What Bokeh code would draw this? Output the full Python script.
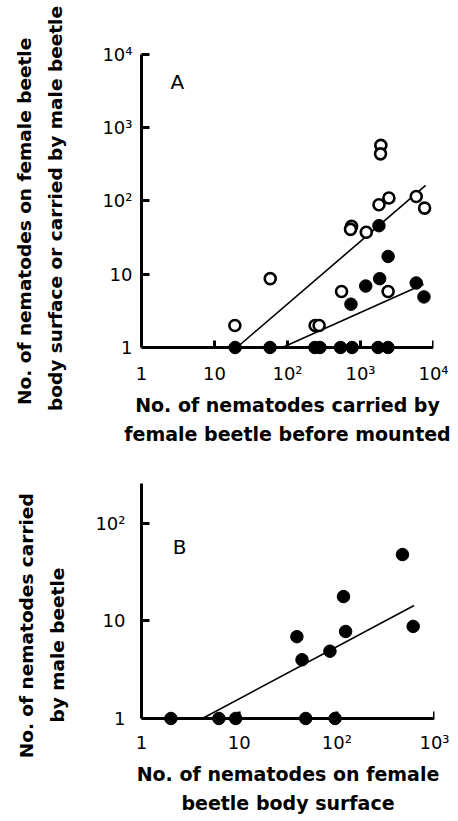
from bokeh.plotting import figure
from bokeh.layouts import column
from bokeh.models import Range1d, FixedTicker, Label, Span
from bokeh.embed import file_html
from bokeh.resources import INLINE

FONT = "DejaVu Sans"
NB = "\u00a0"  # non-breaking space, used to nudge a title line along its axis

# ---------------- Panel A data ----------------
# open circles: nematodes on female beetle body surface
a_open_x = [19, 58, 239, 271, 550, 755, 730, 1200, 1790, 2450, 1900, 1880, 2390, 5800, 7550]
a_open_y = [2.0, 8.7, 2.0, 2.0, 5.8, 45, 41, 37.5, 89, 110, 575, 440, 5.8, 115, 80]
# filled circles: nematodes carried by male beetle
a_fill_x = [1790, 2390, 1830, 1180, 740, 5800, 7400,
            19.2, 57.7, 237, 278, 532, 767, 1740, 2380]
a_fill_y = [46, 17.5, 8.7, 6.9, 3.9, 7.6, 4.9,
            1, 1, 1, 1, 1, 1, 1, 1]
# regression lines (end points)
a_fit_open_x = [20.2, 7800]
a_fit_open_y = [1.0, 163]
a_fit_fill_x = [85, 7300]
a_fit_fill_y = [1.0, 7.3]

a_ticks_x = [1, 10, 100, 1000, 10000]
a_ticks_y = [1, 10, 100, 1000, 10000]
a_labels = {1: "1", 10: "10", 100: "10²", 1000: "10³", 10000: "10⁴"}
a_xtitle = "No. of nematodes carried by\nfemale beetle before mounted"
a_ytitle = ["No. of nematodes on female beetle", "body surface or carried by male beetle"]

# ---------------- Panel B data ----------------
b_x = [2.0, 6.2, 9.2, 48, 96, 39, 44, 85, 117, 123, 470, 605]
b_y = [1, 1, 1, 1, 1, 6.9, 4.0, 4.9, 17.8, 7.8, 48, 8.8]
b_fit_x = [4.2, 618]
b_fit_y = [1.0, 14.4]

b_ticks_x = [1, 10, 100, 1000]
b_ticks_y = [1, 10, 100]
b_labels = {1: "1", 10: "10", 100: "10²", 1000: "10³"}
b_xtitle = "No. of nematodes on female\nbeetle body surface"
b_ytitle = ["No. of nematodes carried", "by male beetle"]


def style(p, xticks, yticks, labels, yb, xlabel, ylabel_lines, pads,
          ytick_standoff, ylabel_standoff, xtick_standoff, xlabel_standoff, decade_px):
    p.yaxis.bounds = yb
    p.xaxis.ticker = FixedTicker(ticks=xticks)
    p.yaxis.ticker = FixedTicker(ticks=yticks)
    p.xaxis.major_label_overrides = labels
    p.yaxis.major_label_overrides = labels
    for ax in (p.xaxis[0], p.yaxis[0]):
        ax.axis_line_width = 3
        ax.axis_line_color = "black"
        ax.major_tick_line_width = 3
        ax.major_tick_line_color = "black"
        ax.major_tick_in = 8
        ax.major_tick_out = 0
        ax.minor_tick_line_color = None
        ax.major_label_text_font = FONT
        ax.major_label_text_font_size = "18px"
        ax.major_label_text_color = "black"
        ax.axis_label_text_font = FONT
        ax.axis_label_text_font_style = "bold"
        ax.axis_label_text_color = "black"
    p.xaxis.axis_label_text_font_size = "19px"
    p.yaxis.axis_label_text_font_size = "18.5px"
    p.xaxis.axis_label_text_line_height = 1.35
    p.yaxis.axis_label_text_line_height = 1.5
    # x axis: line and ticks are drawn at y = 1 below; axis keeps labels only
    p.xaxis.axis_line_color = None
    p.xaxis.major_tick_line_color = None
    p.xaxis.major_label_standoff = xtick_standoff
    p.yaxis.major_label_standoff = ytick_standoff
    p.xaxis.axis_label = xlabel
    p.xaxis.axis_label_standoff = xlabel_standoff
    p.yaxis.axis_label = "\n".join(t + NB * n for t, n in zip(ylabel_lines, pads))
    p.yaxis.axis_label_standoff = ylabel_standoff
    p.xgrid.visible = False
    p.ygrid.visible = False
    p.outline_line_color = None
    p.background_fill_color = "white"
    p.border_fill_color = "white"
    # x axis line at y = 1 and inward ticks
    p.add_layout(Span(location=1, dimension="width", line_color="black", line_width=3))
    tick_top = 10 ** (7.0 / decade_px)
    tx = [t for t in xticks if t != xticks[0]]
    p.segment(x0=tx, y0=[1] * len(tx), x1=tx, y1=[tick_top] * len(tx),
              line_color="black", line_width=3)


pA = figure(x_axis_type="log", y_axis_type="log",
            x_range=Range1d(1, 1e4), y_range=Range1d(10 ** -0.205, 1e4),
            frame_width=292, frame_height=308,
            min_border_left=141, min_border_right=20,
            min_border_top=54, min_border_bottom=88,
            output_backend="svg", toolbar_location=None)
style(pA, a_ticks_x, a_ticks_y, a_labels, (1, 1e4), a_xtitle, a_ytitle, [4, 0],
      9, 33, 0, 7, 73.25)

pA.line(a_fit_open_x, a_fit_open_y, line_width=1.6, line_color="black")
pA.line(a_fit_fill_x, a_fit_fill_y, line_width=1.6, line_color="black")
pA.scatter(a_fill_x, a_fill_y, size=12.5, fill_color="black", line_color="black")
pA.scatter(a_open_x, a_open_y, size=11, fill_color="white", line_color="black", line_width=2.6)
pA.add_layout(Label(x=3.1, y=4150, text="A", text_font=FONT, text_font_size="20px",
                    text_align="center", text_baseline="middle", text_color="black"))

yb_end = 10 ** 2.41
pB = figure(x_axis_type="log", y_axis_type="log",
            x_range=Range1d(1, 1e3), y_range=Range1d(10 ** -0.113, yb_end),
            frame_width=293, frame_height=246,
            min_border_left=139, min_border_right=20,
            min_border_top=33, min_border_bottom=84,
            output_backend="svg", toolbar_location=None)
style(pB, b_ticks_x, b_ticks_y, b_labels, (1, yb_end), b_xtitle, b_ytitle, [6, 12],
      16, 24, 2, 7, 97.5)

pB.line(b_fit_x, b_fit_y, line_width=1.6, line_color="black")
pB.scatter(b_x, b_y, size=12.5, fill_color="black", line_color="black")
pB.add_layout(Label(x=2.45, y=56.8, text="B", text_font=FONT, text_font_size="20px",
                    text_align="center", text_baseline="middle", text_color="black"))

layout = column(pA, pB)
open("out.html", "w").write(file_html(layout, INLINE))
